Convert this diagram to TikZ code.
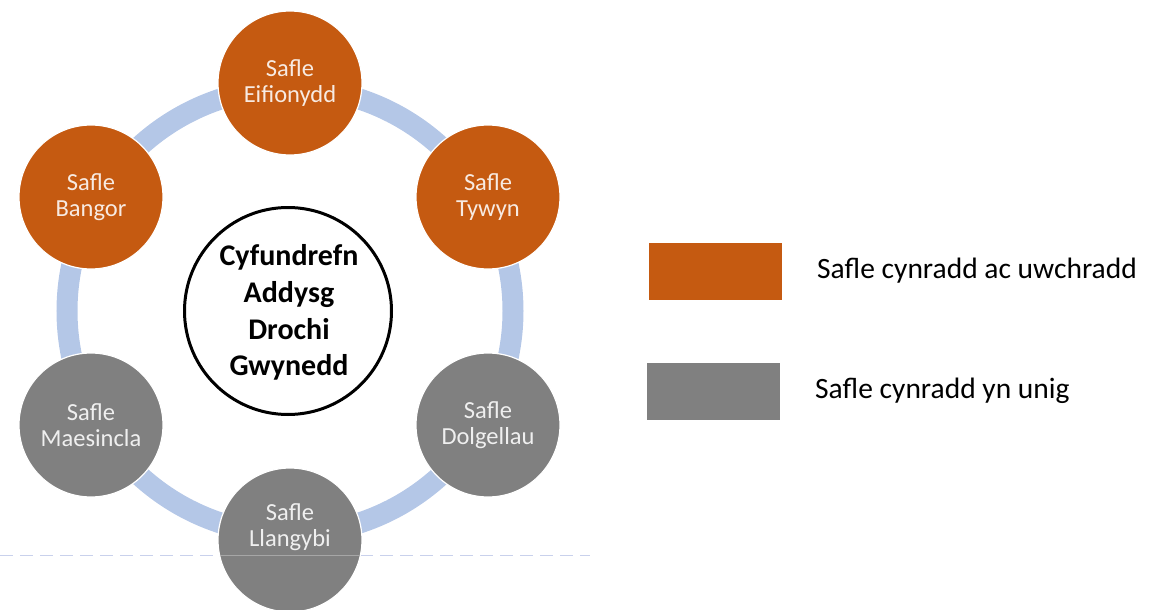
\documentclass[tikz,border=0pt]{standalone}
\usepackage{fontspec}
\setmainfont{Carlito}
\definecolor{orng}{HTML}{C55A11}
\definecolor{gry}{HTML}{808080}
\definecolor{ringc}{HTML}{B4C7E7}
\definecolor{dashc}{HTML}{C9D1EC}
\begin{document}
\begin{tikzpicture}[x=1pt,y=-1pt,
  site/.style={circle, minimum size=144pt, inner sep=0pt, draw=white, line width=1.2pt,
    text=white, text opacity=0.88, font=\fontsize{24.5}{26}\selectfont, align=center},
  prim/.style={site, fill=orng},
  only/.style={site, fill=gry},
  sitetext/.style={inner sep=0pt, text=white, text opacity=0.88, font=\fontsize{24.5}{26}\selectfont, align=center},
  hub/.style={circle, draw=black, line width=3pt, fill=white, minimum size=207pt, inner sep=0pt},
  hubtext/.style={inner sep=0pt, font=\bfseries\fontsize{30}{36.7}\selectfont, align=center},
  key/.style={minimum width=133pt, minimum height=57pt, inner sep=0pt},
  keytext/.style={anchor=base west, inner sep=0pt, font=\fontsize{29.5}{35}\selectfont}]
\useasboundingbox (0,0) rectangle (1152,610);
\coordinate (rc) at (290,311);
\coordinate (dl) at (0,555);
\coordinate (dr) at (590,555);
% dashed line
\draw[dashc, line width=1pt, dash pattern=on 13pt off 7pt] (dl) -- (dr);
% ring
\draw[ringc, line width=21pt] (rc) circle (223pt);
% sites
\node[prim] (eif) at (290,83) {Safle\\Eifionydd};
\node[prim] (tyw) at (488,197) {Safle\\Tywyn};
\node[only] (dol) at (488,425) {Safle\\Dolgellau};
\node[only] (lla) at (290,540) {};
\node[only] (mae) at (91,425) {Safle\\Maesincla};
\node[prim] (ban) at (91,197) {Safle\\Bangor};
% faint line across Llangybi
\begin{scope}
\clip (lla) circle (71pt);
\draw[white, opacity=0.3, line width=0.8pt] (dl) -- (dr);
\end{scope}
\node[sitetext] (llat) at ([yshift=13pt]lla.center) {Safle\\Llangybi};
% hub
\node[hub] (ctr) at (288,311) {};
\node[hubtext] (ctrt) at (289,312.5) {Cyfundrefn\\Addysg\\Drochi\\Gwynedd};
% legend
\node[key, fill=orng] (ko) at (715.5,271.5) {};
\node[keytext] (to) at (817,278) {Safle cynradd ac uwchradd};
\node[key, fill=gry] (kg) at (713.5,391.5) {};
\node[keytext] (tg) at (815,398) {Safle cynradd yn unig};
\end{tikzpicture}
\end{document}
